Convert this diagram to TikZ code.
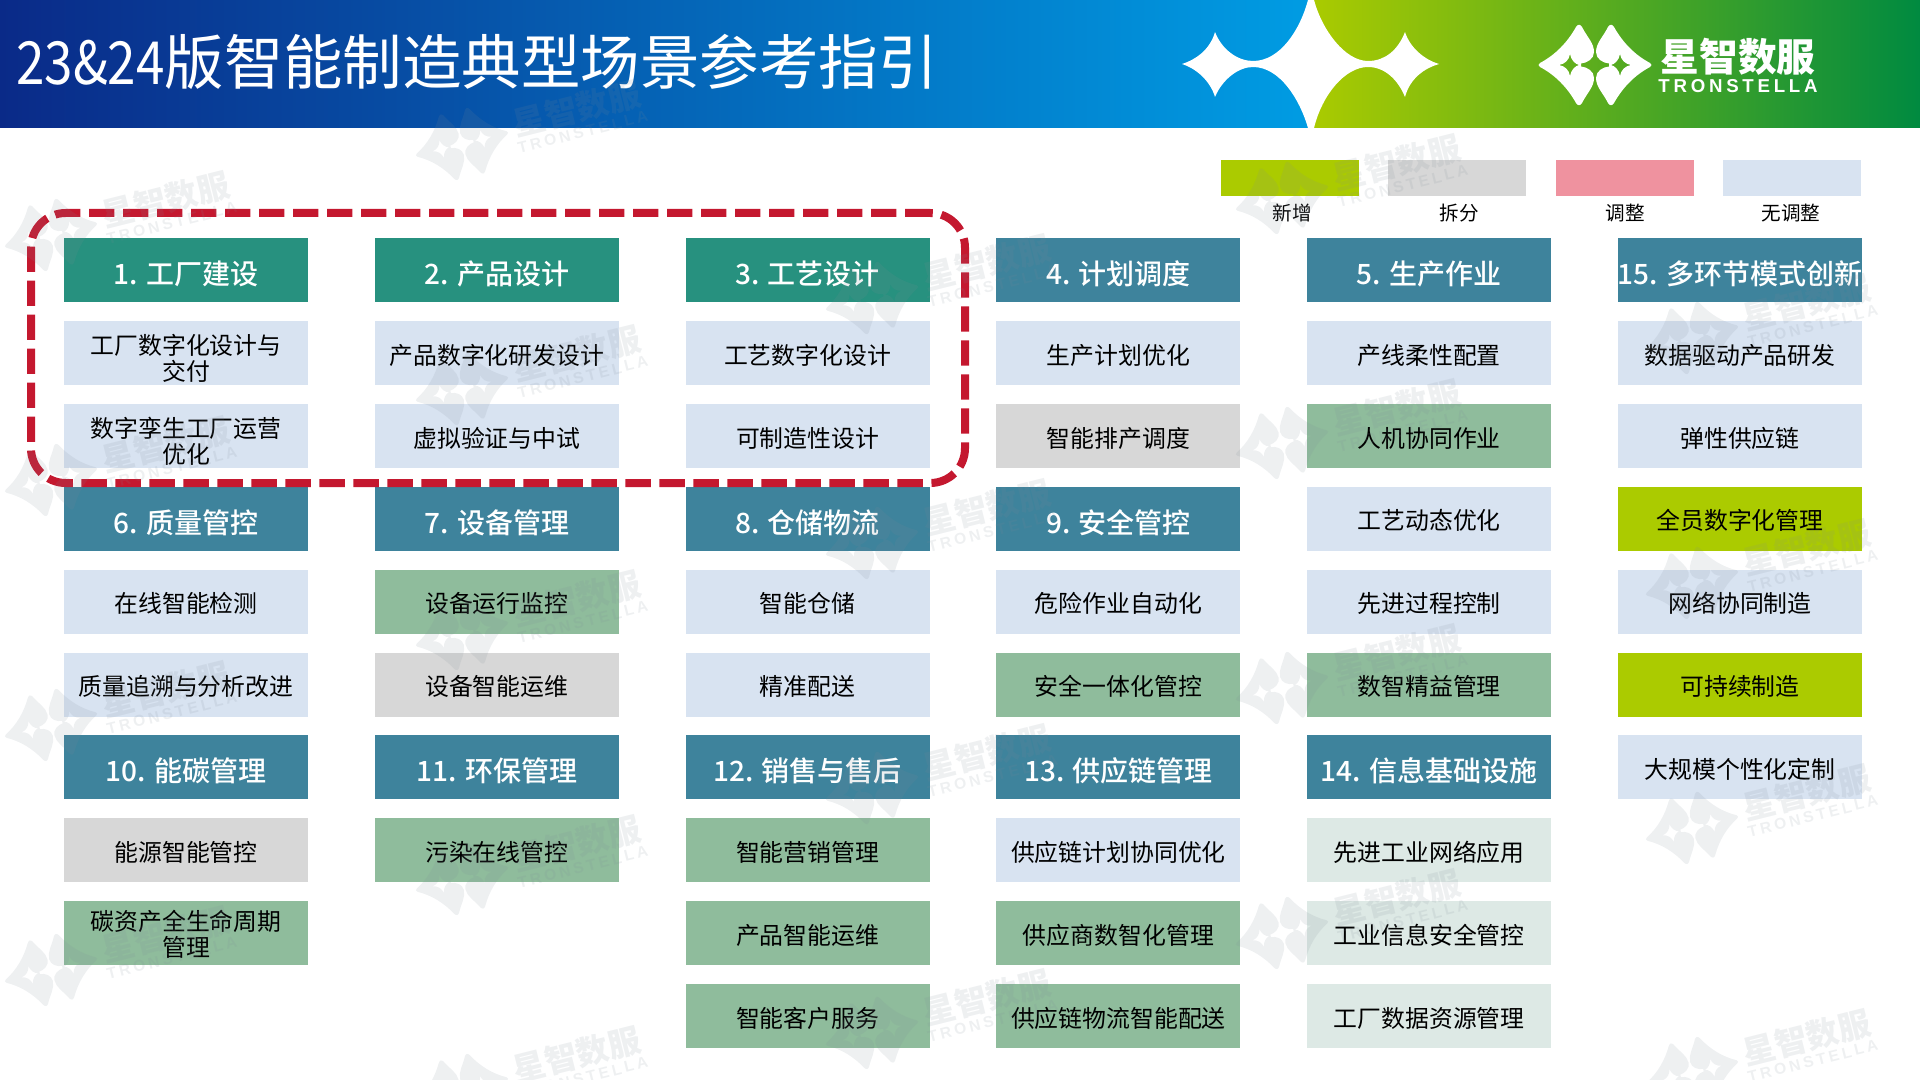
\documentclass[tikz,border=0pt]{standalone}
\usepackage{fontspec}
\setmainfont{Noto Sans CJK SC}
\newfontfamily\narrowdigits[FakeStretch=.86]{Noto Sans CJK SC}
\newfontfamily\headfont{Noto Sans CJK SC Medium}
\newfontfamily\logoletters[LetterSpace=20]{Liberation Sans}
\usetikzlibrary{positioning}
\definecolor{navy}{HTML}{0A2A88}
\definecolor{sky}{HTML}{009CE3}
\definecolor{lime}{HTML}{ABCB00}
\definecolor{forest}{HTML}{008A40}
\definecolor{teal head}{HTML}{27917F}
\definecolor{blue head}{HTML}{3E839C}
\definecolor{plain}{HTML}{D8E3F1}
\definecolor{split}{HTML}{D7D7D7}
\definecolor{changed}{HTML}{EF929F}
\definecolor{sage}{HTML}{8FBC9C}
\definecolor{mist}{HTML}{DDE9E5}
\definecolor{frame red}{HTML}{C4182F}
\definecolor{mark grey}{HTML}{7F8A96}
\tikzset{
  logo/.pic={
    \foreach \m in {1,-1}{
      \path[pic actions, even odd rule, xscale=\m] (-19,-38) .. controls (-28,-22) and (-40,-10) .. (-55,-2)
        .. controls (-57,0) .. (-55,2) .. controls (-40,10) and (-28,22) .. (-19,38)
        .. controls (-17,41) and (-15,41) .. (-13,38) .. controls (-8,28) and (-1,22) .. (-1,13)
        .. controls (-1,6) and (-8,2) .. (-14,1.5) -- (-14,-1.5)
        .. controls (-8,-2) and (-1,-6) .. (-1,-13) .. controls (-1,-22) and (-8,-28) .. (-13,-38)
        .. controls (-15,-41) and (-17,-41) .. (-19,-38) -- cycle
        (-36,0) .. controls (-30,-1) and (-26,-5) .. (-25,-11) .. controls (-24,-5) and (-20,-1) .. (-16,0)
        .. controls (-20,1) and (-24,5) .. (-25,11) .. controls (-26,5) and (-30,1) .. (-36,0) -- cycle;}
    \node (-cn) at (143,-8) {\fontsize{29}{29}\selectfont\bfseries 星智数服};
    \node (-en) at (143,21) {\fontsize{14}{14}\selectfont\logoletters\bfseries TRONSTELLA};
  }
}
\begin{document}
\begin{tikzpicture}[x=.75pt, y=-.75pt, node distance=62.18pt, inner sep=0pt,
    cell/.style={minimum width=183pt, minimum height=48pt, align=center, text height=16.8pt, text depth=0pt, font=\fontsize{17.9}{19.5}\selectfont},
    cell plain/.style={cell, fill=plain},
    cell split/.style={cell, fill=split},
    cell sage/.style={cell, fill=sage},
    cell lime/.style={cell, fill=lime},
    cell mist/.style={cell, fill=mist},
    cell plain two/.style={cell plain, text height=41.4pt},
    cell sage two/.style={cell sage, text height=35pt},
    head/.style={cell, text=white, text height=21.6pt, font=\fontsize{21}{24}\selectfont\headfont},
    head teal/.style={head, fill=teal head},
    head blue/.style={head, fill=blue head},
    swatch/.style={minimum width=103.5pt, minimum height=27pt},
    swatch text/.style={font=\fontsize{14.7}{16}\selectfont}]
\useasboundingbox (0,0) rectangle (1920,1080);
\fill[left color=navy, right color=sky] (0,0) rectangle (1310,128);
\fill[left color=lime, right color=forest] (1310,0) rectangle (1920,128);
\fill[white] (1308,0) .. controls (1300,30) and (1280,61) .. (1253,61)
  .. controls (1238,61) and (1222,50) .. (1215,32) .. controls (1210,50) and (1195,60) .. (1182,64)
  .. controls (1195,68) and (1210,80) .. (1215,97) .. controls (1222,80) and (1238,67) .. (1253,67)
  .. controls (1280,67) and (1300,100) .. (1308,128) -- (1314,128)
  .. controls (1322,95) and (1345,67) .. (1368,67) .. controls (1385,67) and (1398,80) .. (1405,97)
  .. controls (1410,78) and (1425,68) .. (1439,64) .. controls (1425,60) and (1410,48) .. (1405,32)
  .. controls (1398,50) and (1385,61) .. (1368,61) .. controls (1345,61) and (1322,30) .. (1314,0) -- cycle;
\node[anchor=west, text=white, font=\fontsize{44.6}{50}\selectfont] (title) at (16,62) {{\narrowdigits 23\&24}版智能制造典型场景参考指引};
\pic[fill=white, text=white] (brand) at (1595,65) {logo};
\foreach \s/\k/\x/\lx/\l in {s1/lime/1290/1292/新增, s2/split/1457/1459/拆分, s3/changed/1625/1625/调整, s4/plain/1792/1791/无调整}{
    \node[swatch, fill=\k] (\s) at (\x,178) {};
    \node[swatch text] (\s t) at (\lx,213) {\l};}
\node[head teal] (a0) at (186,270) {1. 工厂建设};
\tikzset{node distance = 233.1pt}
\foreach \s/\t/\k/\x in {b0/a0/head teal/2. 产品设计, c0/b0/head teal/3. 工艺设计, d0/c0/head blue/4. 计划调度, e0/d0/head blue/5. 生产作业, f0/e0/head blue/15. 多环节模式创新}{
    \node[\k] (\s) [right of = \t] {\x};}
\tikzset{node distance = 62.18pt}
\foreach \s/\t/\k/\x in {a1/a0/cell plain two/工厂数字化设计与\\交付, a2/a1/cell plain two/数字孪生工厂运营\\优化, a3/a2/head blue/6. 质量管控, a4/a3/cell plain/在线智能检测, a5/a4/cell plain/质量追溯与分析改进, a6/a5/head blue/10. 能碳管理, a7/a6/cell split/能源智能管控, a8/a7/cell sage two/碳资产全生命周期\\管理,
    b1/b0/cell plain/产品数字化研发设计, b2/b1/cell plain/虚拟验证与中试, b3/b2/head blue/7. 设备管理, b4/b3/cell sage/设备运行监控, b5/b4/cell split/设备智能运维, b6/b5/head blue/11. 环保管理, b7/b6/cell sage/污染在线管控,
    c1/c0/cell plain/工艺数字化设计, c2/c1/cell plain/可制造性设计, c3/c2/head blue/8. 仓储物流, c4/c3/cell plain/智能仓储, c5/c4/cell plain/精准配送, c6/c5/head blue/12. 销售与售后, c7/c6/cell sage/智能营销管理, c8/c7/cell sage/产品智能运维, c9/c8/cell sage/智能客户服务,
    d1/d0/cell plain/生产计划优化, d2/d1/cell split/智能排产调度, d3/d2/head blue/9. 安全管控, d4/d3/cell plain/危险作业自动化, d5/d4/cell sage/安全一体化管控, d6/d5/head blue/13. 供应链管理, d7/d6/cell plain/供应链计划协同优化, d8/d7/cell sage/供应商数智化管理, d9/d8/cell sage/供应链物流智能配送,
    e1/e0/cell plain/产线柔性配置, e2/e1/cell sage/人机协同作业, e3/e2/cell plain/工艺动态优化, e4/e3/cell plain/先进过程控制, e5/e4/cell sage/数智精益管理, e6/e5/head blue/14. 信息基础设施, e7/e6/cell mist/先进工业网络应用, e8/e7/cell mist/工业信息安全管控, e9/e8/cell mist/工厂数据资源管理,
    f1/f0/cell plain/数据驱动产品研发, f2/f1/cell plain/弹性供应链, f3/f2/cell lime/全员数字化管理, f4/f3/cell plain/网络协同制造, f5/f4/cell lime/可持续制造, f6/f5/cell plain/大规模个性化定制}{
    \node[\k] (\s) [below of = \t] {\x};}
\node[draw=frame red, line width=6pt, dash pattern=on 19pt off 6.5pt, rounded corners=26pt, minimum width=700.5pt, minimum height=202.5pt] (frame) at (498,348) {};
% watermark goes over everything
\foreach \x/\y/\last in {51/235/3, 462/144/3, 462/1090/0, 872/298/3, 1282/198/3, 1692/338/3}{
    \foreach \n in {0,...,\last}{
        \pic[fill=mark grey, text=mark grey, fill opacity=.13, text opacity=.13, rotate=14, scale=.84, transform shape] (w\x\y\n) at (\x,{\y+\n*245}) {logo};}}
\end{tikzpicture}
\end{document}
